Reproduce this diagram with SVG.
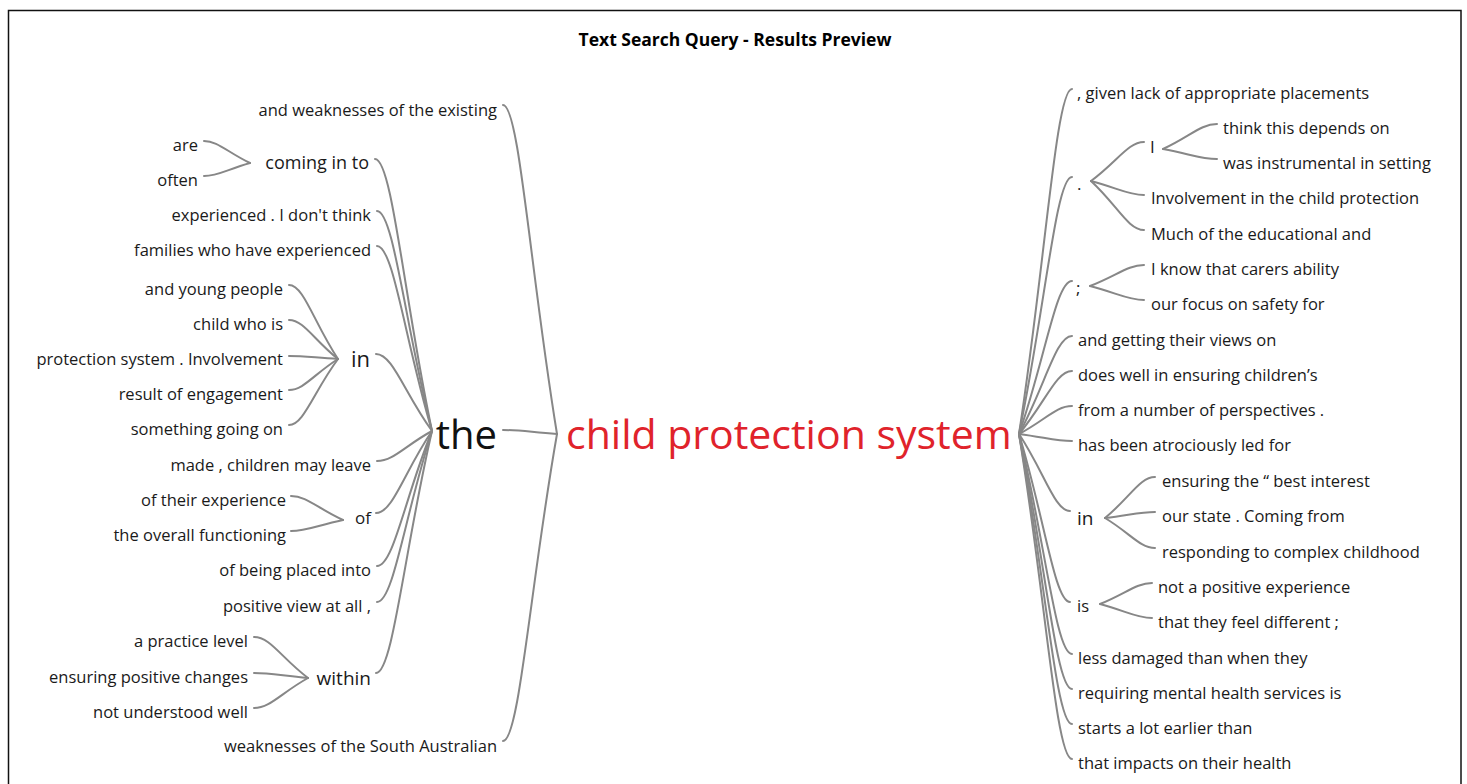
<svg xmlns="http://www.w3.org/2000/svg" width="1467" height="784" viewBox="0 0 1467 784">
  <style>
    text { font-family: "Open Sans", "Noto Sans", "DejaVu Sans", sans-serif; fill: #1a1a1a; }
    .title { font-size: 17.5px; font-weight: bold; fill: #000; }
    .lf { font-size: 16.5px; }
    .l { text-anchor: end; }
    .root { font-size: 41px; fill: #e0232b; }
    .big { font-size: 40px; fill: #111; }
    .e { fill: none; stroke: #878787; stroke-width: 2; stroke-linecap: round; }
  </style>

  <rect x="8.5" y="10.5" width="1452.5" height="800" fill="#fff" stroke="#111" stroke-width="1.5"/>

  <g id="title">
    <text class="title" x="735" y="46" text-anchor="middle">Text Search Query - Results Preview</text>
  </g>

  <!-- connectors: each curve leaves its junction towards the midpoint and lands flat on the word -->
  <g id="connectors">
    <!-- root, left side -->
    <path class="e" d="M557,434 C530,269.5 519.2,105 503,105"/>
    <path class="e" d="M557,434 C530,432 519.2,430 503,430"/>
    <path class="e" d="M557,434 C530,587.5 519.2,741 503,741"/>
    <!-- "the" -->
    <path class="e" d="M432,431 C403.5,295 392.1,159 375,159"/>
    <path class="e" d="M432,431 C404.5,321 393.5,211 377,211"/>
    <path class="e" d="M432,431 C404.5,338.5 393.5,246 377,246"/>
    <path class="e" d="M432,431 C404,392.5 392.8,354 376,354"/>
    <path class="e" d="M432,431 C404.5,446 393.5,461 377,461"/>
    <path class="e" d="M432,431 C404,472 392.8,513 376,513"/>
    <path class="e" d="M432,431 C404.5,498.5 393.5,566 377,566"/>
    <path class="e" d="M432,431 C404.5,516.5 393.5,602 377,602"/>
    <path class="e" d="M432,431 C404,552 392.8,673 376,673"/>
    <!-- "coming in to" -->
    <path class="e" d="M250,163 C227,152 217.8,141 204,141"/>
    <path class="e" d="M250,163 C227,169.5 217.8,176 204,176"/>
    <!-- "in" (left) -->
    <path class="e" d="M338,359 C313.5,322 303.7,285 289,285"/>
    <path class="e" d="M338,359 C313.5,339.5 303.7,320 289,320"/>
    <path class="e" d="M338,359 C313.5,357.5 303.7,356 289,356"/>
    <path class="e" d="M338,359 C313.5,374.5 303.7,390 289,390"/>
    <path class="e" d="M338,359 C313.5,392 303.7,425 289,425"/>
    <!-- "of" -->
    <path class="e" d="M343,520 C317,508 306.6,496 291,496"/>
    <path class="e" d="M343,520 C317,525.5 306.6,531 291,531"/>
    <!-- "within" -->
    <path class="e" d="M308,678 C281,657.5 270.2,637 254,637"/>
    <path class="e" d="M308,678 C281,675.5 270.2,673 254,673"/>
    <path class="e" d="M308,678 C281,693 270.2,708 254,708"/>

    <!-- root, right side -->
    <path class="e" d="M1019,434 C1045.5,261.5 1056,89 1072,89"/>
    <path class="e" d="M1019,434 C1045.5,305.5 1056,177 1072,177"/>
    <path class="e" d="M1019,434 C1045.5,357.5 1056,281 1072,281"/>
    <path class="e" d="M1019,434 C1045.5,385 1056,336 1072,336"/>
    <path class="e" d="M1019,434 C1045.5,402.5 1056,371 1072,371"/>
    <path class="e" d="M1019,434 C1045.5,420 1056,406 1072,406"/>
    <path class="e" d="M1019,434 C1045.5,437.5 1056,441 1072,441"/>
    <path class="e" d="M1019,434 C1044.5,472.5 1054.7,511 1070,511"/>
    <path class="e" d="M1019,434 C1044.5,518 1054.7,602 1070,602"/>
    <path class="e" d="M1019,434 C1045.5,544 1056,654 1072,654"/>
    <path class="e" d="M1019,434 C1045.5,561.5 1056,689 1072,689"/>
    <path class="e" d="M1019,434 C1045.5,579 1056,724 1072,724"/>
    <path class="e" d="M1019,434 C1045.5,596.5 1056,759 1072,759"/>
    <!-- "." -->
    <path class="e" d="M1091,181 C1117.5,161.5 1128.1,142 1144,142"/>
    <path class="e" d="M1091,181 C1117.5,188 1128.1,195 1144,195"/>
    <path class="e" d="M1091,181 C1117.5,205.5 1128.1,230 1144,230"/>
    <!-- "I" -->
    <path class="e" d="M1163,149 C1190,136.5 1200.8,124 1217,124"/>
    <path class="e" d="M1163,149 C1190,154 1200.8,159 1217,159"/>
    <!-- ";" -->
    <path class="e" d="M1090,286 C1117,275.5 1127.8,265 1144,265"/>
    <path class="e" d="M1090,286 C1117,293 1127.8,300 1144,300"/>
    <!-- "in" (right) -->
    <path class="e" d="M1105,518 C1130,497.5 1140,477 1155,477"/>
    <path class="e" d="M1105,518 C1130,515 1140,512 1155,512"/>
    <path class="e" d="M1105,518 C1130,533 1140,548 1155,548"/>
    <!-- "is" -->
    <path class="e" d="M1100,604 C1126,593.5 1136.4,583 1152,583"/>
    <path class="e" d="M1100,604 C1126,611 1136.4,618 1152,618"/>
  </g>

  <!-- root word -->
  <g id="n-root"><text class="root" x="566" y="449">child protection system</text></g>

  <!-- left branch -->
  <g id="n-l-existing"><text class="lf l" x="497" y="116">and weaknesses of the existing</text></g>
  <g id="n-l-the"><text class="big l" x="497" y="449">the</text></g>
  <g id="n-l-south"><text class="lf l" x="497" y="752">weaknesses of the South Australian</text></g>

  <g id="n-l-coming"><text class="l" x="369" y="169" style="font-size:18px">coming in to</text></g>
  <g id="n-l-are"><text class="lf l" x="198" y="151">are</text></g>
  <g id="n-l-often"><text class="lf l" x="198" y="186">often</text></g>

  <g id="n-l-experienced"><text class="lf l" x="371" y="221">experienced . I don't think</text></g>
  <g id="n-l-families"><text class="lf l" x="371" y="256">families who have experienced</text></g>

  <g id="n-l-in"><text class="l" x="370" y="367" style="font-size:22px">in</text></g>
  <g id="n-l-young"><text class="lf l" x="283" y="295">and young people</text></g>
  <g id="n-l-childwho"><text class="lf l" x="283" y="330">child who is</text></g>
  <g id="n-l-involvement"><text class="lf l" x="283" y="365">protection system . Involvement</text></g>
  <g id="n-l-result"><text class="lf l" x="283" y="400">result of engagement</text></g>
  <g id="n-l-something"><text class="lf l" x="283" y="435">something going on</text></g>

  <g id="n-l-made"><text class="lf l" x="371" y="471">made , children may leave</text></g>

  <g id="n-l-of"><text class="l" x="371" y="524" style="font-size:17px">of</text></g>
  <g id="n-l-theirexp"><text class="lf l" x="286" y="506">of their experience</text></g>
  <g id="n-l-overall"><text class="lf l" x="286" y="541">the overall functioning</text></g>

  <g id="n-l-placed"><text class="lf l" x="371" y="576">of being placed into</text></g>
  <g id="n-l-positive"><text class="lf l" x="371" y="612">positive view at all ,</text></g>

  <g id="n-l-within"><text class="l" x="371" y="685" style="font-size:19px">within</text></g>
  <g id="n-l-practice"><text class="lf l" x="248" y="647">a practice level</text></g>
  <g id="n-l-changes"><text class="lf l" x="248" y="683">ensuring positive changes</text></g>
  <g id="n-l-understood"><text class="lf l" x="248" y="718">not understood well</text></g>

  <!-- right branch -->
  <g id="n-r-given"><text class="lf" x="1077" y="99">, given lack of appropriate placements</text></g>

  <g id="n-r-dot"><text x="1077" y="190" style="font-size:17px">.</text></g>
  <g id="n-r-i"><text x="1150" y="153" style="font-size:17px">I</text></g>
  <g id="n-r-think"><text class="lf" x="1223" y="134">think this depends on</text></g>
  <g id="n-r-instrumental"><text class="lf" x="1223" y="169">was instrumental in setting</text></g>
  <g id="n-r-involvement"><text class="lf" x="1151" y="204">Involvement in the child protection</text></g>
  <g id="n-r-much"><text class="lf" x="1151" y="240">Much of the educational and</text></g>

  <g id="n-r-semi"><text x="1076" y="294" style="font-size:17px">;</text></g>
  <g id="n-r-carers"><text class="lf" x="1151" y="275">I know that carers ability</text></g>
  <g id="n-r-focus"><text class="lf" x="1151" y="310">our focus on safety for</text></g>

  <g id="n-r-views"><text class="lf" x="1078" y="346">and getting their views on</text></g>
  <g id="n-r-doeswell"><text class="lf" x="1078" y="381">does well in ensuring children’s</text></g>
  <g id="n-r-perspectives"><text class="lf" x="1078" y="416">from a number of perspectives .</text></g>
  <g id="n-r-atrocious"><text class="lf" x="1078" y="451">has been atrociously led for</text></g>

  <g id="n-r-in"><text x="1077" y="525" style="font-size:19px">in</text></g>
  <g id="n-r-bestinterest"><text class="lf" x="1162" y="487">ensuring the “ best interest</text></g>
  <g id="n-r-ourstate"><text class="lf" x="1162" y="522">our state . Coming from</text></g>
  <g id="n-r-complex"><text class="lf" x="1162" y="558">responding to complex childhood</text></g>

  <g id="n-r-is"><text class="lf" x="1077" y="612">is</text></g>
  <g id="n-r-notpositive"><text class="lf" x="1158" y="593">not a positive experience</text></g>
  <g id="n-r-different"><text class="lf" x="1158" y="628">that they feel different ;</text></g>

  <g id="n-r-damaged"><text class="lf" x="1078" y="664">less damaged than when they</text></g>
  <g id="n-r-mental"><text class="lf" x="1078" y="699">requiring mental health services is</text></g>
  <g id="n-r-earlier"><text class="lf" x="1078" y="734">starts a lot earlier than</text></g>
  <g id="n-r-impacts"><text class="lf" x="1078" y="769">that impacts on their health</text></g>
</svg>
